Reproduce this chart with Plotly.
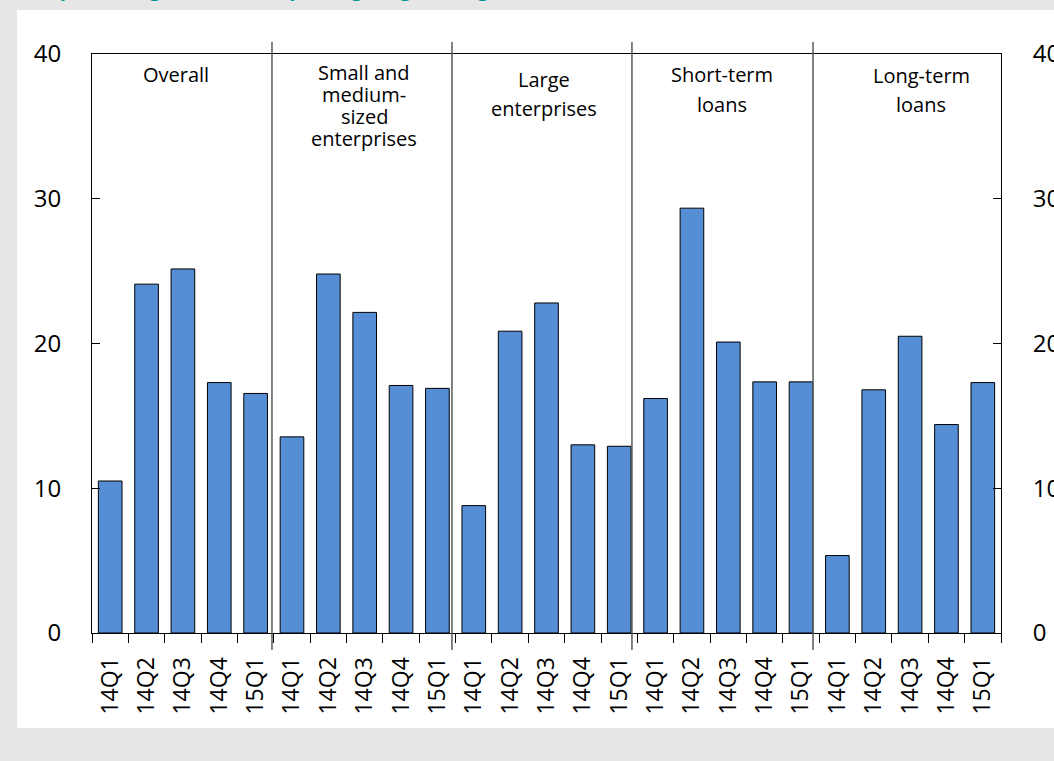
import plotly.graph_objects as go

quarters = ["14Q1", "14Q2", "14Q3", "14Q4", "15Q1"]
panel_lines = [
    ["Overall"],
    ["Small and", "medium-", "sized", "enterprises"],
    ["Large", "enterprises"],
    ["Short-term", "loans"],
    ["Long-term", "loans"],
]

overall = [10.5, 24.1, 25.15, 17.3, 16.55]
sme = [13.55, 24.8, 22.15, 17.1, 16.9]
large = [8.8, 20.85, 22.8, 13.0, 12.9]
short_term = [16.2, 29.35, 20.1, 17.35, 17.35]
long_term = [5.35, 16.8, 20.5, 14.4, 17.3]

series = [overall, sme, large, short_term, long_term]
values = [v for s in series for v in s]
labels = quarters * len(series)
xpos = list(range(len(values)))

W, H = 1054, 761
L, R, T, B = 92, 1001, 54, 633   # plot area in pixels
pw, ph = R - L, B - T


def px_x(p):
    return (p - L) / pw


def px_y(p):
    return (B - p) / ph


font = "'Open Sans', Lato, sans-serif"

fig = go.Figure()
fig.add_trace(go.Bar(
    x=xpos, y=values, width=0.65,
    marker=dict(color="#558ED5", line=dict(color="black", width=1)),
    showlegend=False, hoverinfo="y",
))
# dummy trace so the right axis gets drawn
fig.add_trace(go.Scatter(x=[None], y=[None], yaxis="y2", showlegend=False, hoverinfo="skip"))

# white panel on grey background
fig.add_shape(type="rect", xref="paper", yref="paper", layer="below",
              x0=px_x(17), x1=px_x(1070), y0=px_y(728), y1=px_y(10),
              fillcolor="white", line=dict(width=0))

# panel separators
for b in [4.45, 9.4, 14.35, 19.33]:
    fig.add_shape(type="line", xref="x", yref="paper", x0=b, x1=b,
                  y0=px_y(650), y1=px_y(42), line=dict(color="#595959", width=1.5))

# panel titles, one annotation per line (x centre, first baseline, line step)
title_pos = [(176, 81.5, 22), (364, 79.5, 22), (544, 87, 28), (722, 81.5, 29.5), (921, 82.5, 29.5)]
for lines, (cx, base, step) in zip(panel_lines, title_pos):
    for j, line in enumerate(lines):
        fig.add_annotation(x=px_x(cx), y=px_y(base + j * step - 7), xref="paper", yref="paper",
                           text=line, showarrow=False, xanchor="center", yanchor="middle",
                           font=dict(family=font, size=20, color="black"))

# chart subtitle, mostly cut off at the top of the page
fig.add_annotation(x=px_x(9), y=px_y(3.5), xref="paper", yref="paper",
                   text="<b>(Net percentage of banks reporting a tightening of credit standards)</b>",
                   showarrow=False, xanchor="left", yanchor="bottom",
                   font=dict(family=font, size=20, color="#009999"))

fig.update_layout(
    width=W, height=H,
    margin=dict(l=L, r=W - R, t=T, b=H - B, pad=0),
    paper_bgcolor="#e6e6e6", plot_bgcolor="white",
    bargap=0.35,
    xaxis=dict(
        range=[-0.5, len(values) - 0.5],
        tickmode="array", tickvals=xpos, ticktext=labels, tickangle=-90,
        ticks="", ticklabelstandoff=14,
        minor=dict(tickvals=[i - 0.5 for i in range(len(values) + 1)],
                   ticks="outside", ticklen=9, tickcolor="black", tickwidth=1),
        showline=True, linecolor="black", linewidth=1, mirror=True,
        showgrid=False, zeroline=False, automargin=False,
        tickfont=dict(family=font, size=23, color="black"),
    ),
    yaxis=dict(
        range=[0, 40], tickvals=[0, 10, 20, 30, 40],
        ticks="inside", ticklen=8, tickcolor="black",
        showline=True, linecolor="black", linewidth=1,
        showgrid=False, zeroline=False, ticklabelstandoff=25, automargin=False,
        tickfont=dict(family=font, size=24, color="black"),
    ),
    yaxis2=dict(
        range=[0, 40], tickvals=[0, 10, 20, 30, 40], overlaying="y", side="right",
        ticks="inside", ticklen=8, tickcolor="black",
        showline=True, linecolor="black", linewidth=1,
        showgrid=False, zeroline=False, ticklabelstandoff=26, automargin=False,
        tickfont=dict(family=font, size=24, color="black"),
    ),
)

# drop the page's default body margin so the figure fills the window
fig.write_html("out.html", config={"displayModeBar": False}, post_script=(
    "document.body.style.margin='0';"
    "document.body.style.overflow='hidden';"
    "document.body.style.background='#e6e6e6';"
))
